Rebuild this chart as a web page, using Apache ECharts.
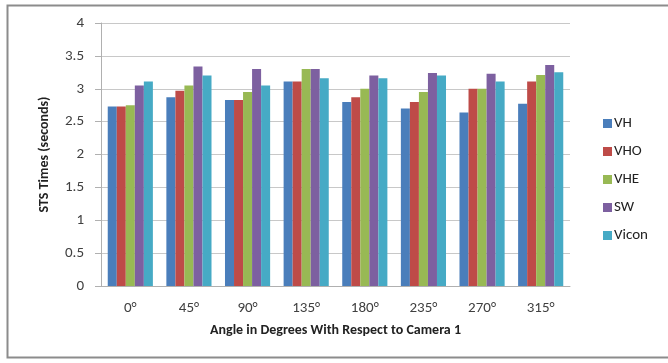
<!DOCTYPE html>
<html><head><meta charset="utf-8">
<script src="https://cdn.jsdelivr.net/npm/echarts@6/dist/echarts.min.js"></script>
<style>html,body{margin:0;padding:0;background:#fff}#c{width:668px;height:363px}</style>
</head><body><div id="c"></div>
<script>
const categories = ['0°','45°','90°','135°','180°','235°','270°','315°'];
const VH    = [2.73, 2.87, 2.83, 3.11, 2.80, 2.70, 2.64, 2.77];
const VHO   = [2.73, 2.97, 2.83, 3.11, 2.87, 2.80, 3.00, 3.11];
const VHE   = [2.75, 3.05, 2.95, 3.30, 3.00, 2.95, 3.00, 3.21];
const SW    = [3.05, 3.34, 3.30, 3.30, 3.20, 3.24, 3.23, 3.36];
const Vicon = [3.11, 3.20, 3.05, 3.16, 3.16, 3.20, 3.11, 3.25];
const seriesNames = ['VH','VHO','VHE','SW','Vicon'];
const seriesData = [VH, VHO, VHE, SW, Vicon];
const colors = ['#4a7ebb','#be4b48','#98b954','#7d60a0','#46aac5'];
const font = 'Calibri, Carlito, "Open Sans", "Liberation Sans", sans-serif';

const chart = echarts.init(document.getElementById('c'));
chart.setOption({
  animation: false,
  color: colors,
  textStyle: {fontFamily: font},
  graphic: [{type:'rect', shape:{x:7.5, y:5.5, width:700, height:352}, style:{fill:'none', stroke:'#8c8c8c', lineWidth:2}}],
  grid: {left: 101, right: 98, top: 23, bottom: 77},
  legend: {
    orient: 'vertical', left: 598, top: 111, itemGap: 13,
    itemWidth: 9, itemHeight: 9, icon: 'rect',
    textStyle: {fontSize: 15, color: '#222', fontFamily: font, padding:[0,0,0,-3]},
    data: seriesNames
  },
  xAxis: {
    type: 'category', data: categories,
    axisLine: {lineStyle: {color: '#b0b0b0'}},
    axisTick: {show: false},
    axisLabel: {fontSize: 15, color: '#404040', margin: 15},
    name: 'Angle in Degrees With Respect to Camera 1',
    nameLocation: 'middle', nameGap: 37,
    nameTextStyle: {fontSize: 14, fontWeight: 'bold', color: '#222'}
  },
  yAxis: {
    type: 'value', min: 0, max: 4, interval: 0.5,
    axisLine: {show: true, lineStyle: {color: '#b0b0b0'}},
    axisTick: {show: true, length: 6, lineStyle: {color: '#b0b0b0'}},
    splitLine: {lineStyle: {color: '#c8c8c8'}},
    axisLabel: {fontSize: 15, color: '#404040', margin: 17},
    name: 'STS Times (seconds)', nameLocation: 'middle', nameGap: 50, nameRotate: 90,
    nameTextStyle: {fontSize: 14, fontWeight: 'bold', color: '#222'}
  },
  series: seriesNames.map((n, i) => ({
    name: n, type: 'bar', data: seriesData[i],
    barGap: '0%', barCategoryGap: '23%'
  }))
});
</script></body></html>
